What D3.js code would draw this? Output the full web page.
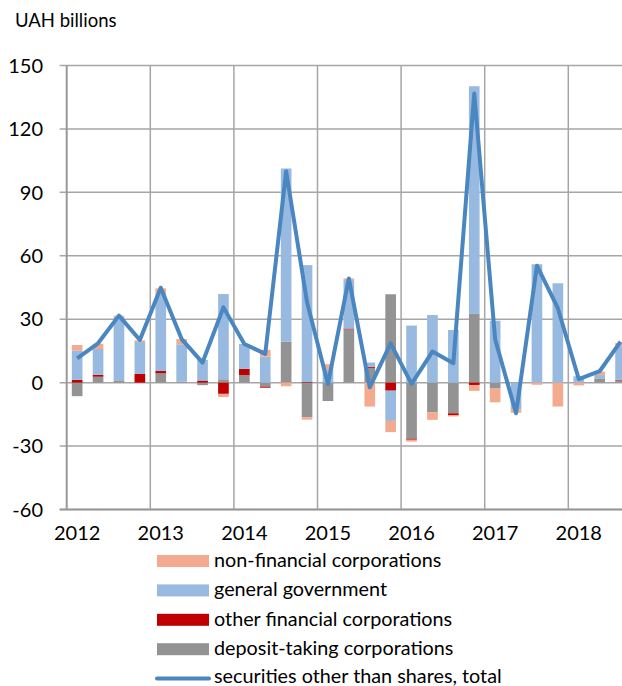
<!DOCTYPE html>
<html>
<head>
<meta charset="utf-8">
<script src="https://cdn.jsdelivr.net/npm/d3@7"></script>
<style>
  html, body { margin: 0; padding: 0; background: #fff; }
  svg { display: block; font-family: Lato, "Open Sans", sans-serif; }
</style>
</head>
<body>
<svg id="chart" width="622" height="686"></svg>
<script>
// ---- data (UAH billions, quarterly 2012Q1 - 2018Q3) ----
const quarters = ["2012Q1","2012Q2","2012Q3","2012Q4","2013Q1","2013Q2","2013Q3","2013Q4",
  "2014Q1","2014Q2","2014Q3","2014Q4","2015Q1","2015Q2","2015Q3","2015Q4",
  "2016Q1","2016Q2","2016Q3","2016Q4","2017Q1","2017Q2","2017Q3","2017Q4",
  "2018Q1","2018Q2","2018Q3"];
const depositTaking = [-6.4, 2.8, 1.1, 0, 4.4, 0.5, -1.2, 1.6, 3.6, -1.9, 19.4, -16.4, -8.7, 25.2, 7.0, 41.8, -26.5, -14.0, -14.5, 32.5, -2.8, 0, 0, 0, 0, 2.0, 1.0];
const otherFinancial = [1.3, 0.9, 0, 4.1, 1.1, 0, 1.0, -5.3, 2.9, -0.5, 0, 0.3, 0, 0.4, 0.5, -3.8, -0.5, 0, -0.8, -1.1, 0, 0, 0, 0, 0, 0, 0.3];
const generalGovernment = [13.8, 12.2, 30.1, 15.1, 36.7, 17.6, 9.7, 40.3, 11.8, 12.3, 81.9, 55.3, 6.0, 22.9, 2.0, -14.3, 27.0, 32.0, 24.9, 107.7, 29.3, -12.6, 56.0, 47.0, 3.0, 1.6, 16.0];
const nonFinancial = [2.7, 2.5, 0.5, 0.8, 2.4, 2.5, 0, -1.5, 0, 3.2, -1.7, -1.1, 2.7, 0.8, -11.3, -5.3, -0.9, -3.6, -0.7, -2.8, -6.5, -1.6, -1.0, -11.3, -1.3, 1.6, 1.5];
const totalSecurities = [11.5, 18.6, 31.7, 20.2, 44.9, 20.6, 9.5, 35.6, 18.3, 13.6, 100.0, 38.0, -0.6, 49.3, -2.2, 18.6, -0.6, 14.7, 9.2, 136.8, 20.5, -14.5, 55.3, 35.2, 1.7, 5.4, 19.4];
const yearLabels = ["2012","2013","2014","2015","2016","2017","2018"];
const yTicks = [-60, -30, 0, 30, 60, 90, 120, 150];
const seriesNames = ["deposit-taking corporations","other financial corporations","general government","non-financial corporations"];
const lineName = "securities other than shares, total";

(function () {
const keys = ["dep","ofc","gov","nfc"];
const colors = { dep: "#939393", ofc: "#C00000", gov: "#99BAE0", nfc: "#F4AA8E" };
const table = quarters.map((q, i) => ({
  q, dep: depositTaking[i], ofc: otherFinancial[i], gov: generalGovernment[i], nfc: nonFinancial[i], total: totalSecurities[i]
}));

const svg = d3.select("#chart");
const pL = 66.7, pT = 65.5, pB = 509.5;
const step = 20.9;

const x = d3.scaleBand().domain(quarters).range([pL, pL + step * quarters.length]).paddingInner(0.49).paddingOuter(0.245);
const xc = d3.scaleBand().domain(quarters).range([pL, pL + step * quarters.length]);
const y = d3.scaleLinear().domain([-60, 150]).range([pB, pT]);

const grid = svg.append("g");
grid.selectAll("line.h").data(yTicks).join("line")
  .attr("x1", pL - 7).attr("x2", 622)
  .attr("y1", d => y(d)).attr("y2", d => y(d))
  .attr("stroke", "#A6A6A6").attr("stroke-width", 1.5);
const yearStarts = quarters.map((q, i) => i).filter(i => i % 4 === 0 && i > 0);
grid.selectAll("line.v").data(yearStarts).join("line")
  .attr("x1", i => xc(quarters[i])).attr("x2", i => xc(quarters[i]))
  .attr("y1", pT).attr("y2", pB)
  .attr("stroke", "#A6A6A6").attr("stroke-width", 1.5);

const stack = d3.stack().keys(keys).offset(d3.stackOffsetDiverging);
const stacked = stack(table);
svg.append("g").selectAll("g").data(stacked).join("g")
  .attr("fill", d => colors[d.key])
  .selectAll("rect").data(d => d).join("rect")
  .attr("x", d => x(d.data.q))
  .attr("width", x.bandwidth())
  .attr("y", d => y(Math.max(d[0], d[1])))
  .attr("height", d => Math.abs(y(d[0]) - y(d[1])));

svg.append("line").attr("x1", pL).attr("x2", pL).attr("y1", pT).attr("y2", pB)
  .attr("stroke", "#999").attr("stroke-width", 2);
svg.append("line").attr("x1", pL - 7).attr("x2", 622).attr("y1", pB).attr("y2", pB)
  .attr("stroke", "#999").attr("stroke-width", 2);

const line = d3.line().x(d => xc(d.q) + xc.bandwidth() / 2).y(d => y(d.total));
svg.append("path").datum(table).attr("d", line)
  .attr("fill", "none").attr("stroke", "#4A86C0").attr("stroke-width", 4)
  .attr("stroke-linejoin", "round");

svg.append("g").selectAll("text").data(yTicks).join("text")
  .attr("x", 43).attr("y", d => y(d)).attr("dy", "0.36em")
  .attr("text-anchor", "end").attr("font-size", 20).attr("fill", "#000")
  .text(d => d);

svg.append("g").selectAll("text").data(yearLabels).join("text")
  .attr("x", (d, i) => xc(quarters[i * 4]) + xc.bandwidth() / 2)
  .attr("y", 540)
  .attr("text-anchor", "middle").attr("font-size", 20).attr("fill", "#000")
  .text(d => d);

svg.append("text").attr("x", 15).attr("y", 26.5).attr("font-size", 18.5).attr("fill", "#000").text("UAH billions");

const legendItems = [
  { name: seriesNames[3], color: colors.nfc, type: "rect" },
  { name: seriesNames[2], color: colors.gov, type: "rect" },
  { name: seriesNames[1], color: colors.ofc, type: "rect" },
  { name: seriesNames[0], color: colors.dep, type: "rect" },
  { name: lineName, color: "#4A86C0", type: "line" }
];
const lg = svg.append("g");
legendItems.forEach((it, i) => {
  const cy = 561 + i * 29.4;
  if (it.type === "rect") {
    lg.append("rect").attr("x", 157).attr("y", cy - 6).attr("width", 52).attr("height", 12).attr("fill", it.color);
  } else {
    lg.append("line").attr("x1", 157).attr("x2", 209).attr("y1", cy).attr("y2", cy)
      .attr("stroke", it.color).attr("stroke-width", 4).attr("stroke-linecap", "round");
  }
  lg.append("text").attr("x", 214).attr("y", i === 4 ? cy - 1.5 : cy).attr("dy", "0.3em")
    .attr("font-size", 19.8).attr("fill", "#000").text(it.name);
});
})();
</script>
</body>
</html>
